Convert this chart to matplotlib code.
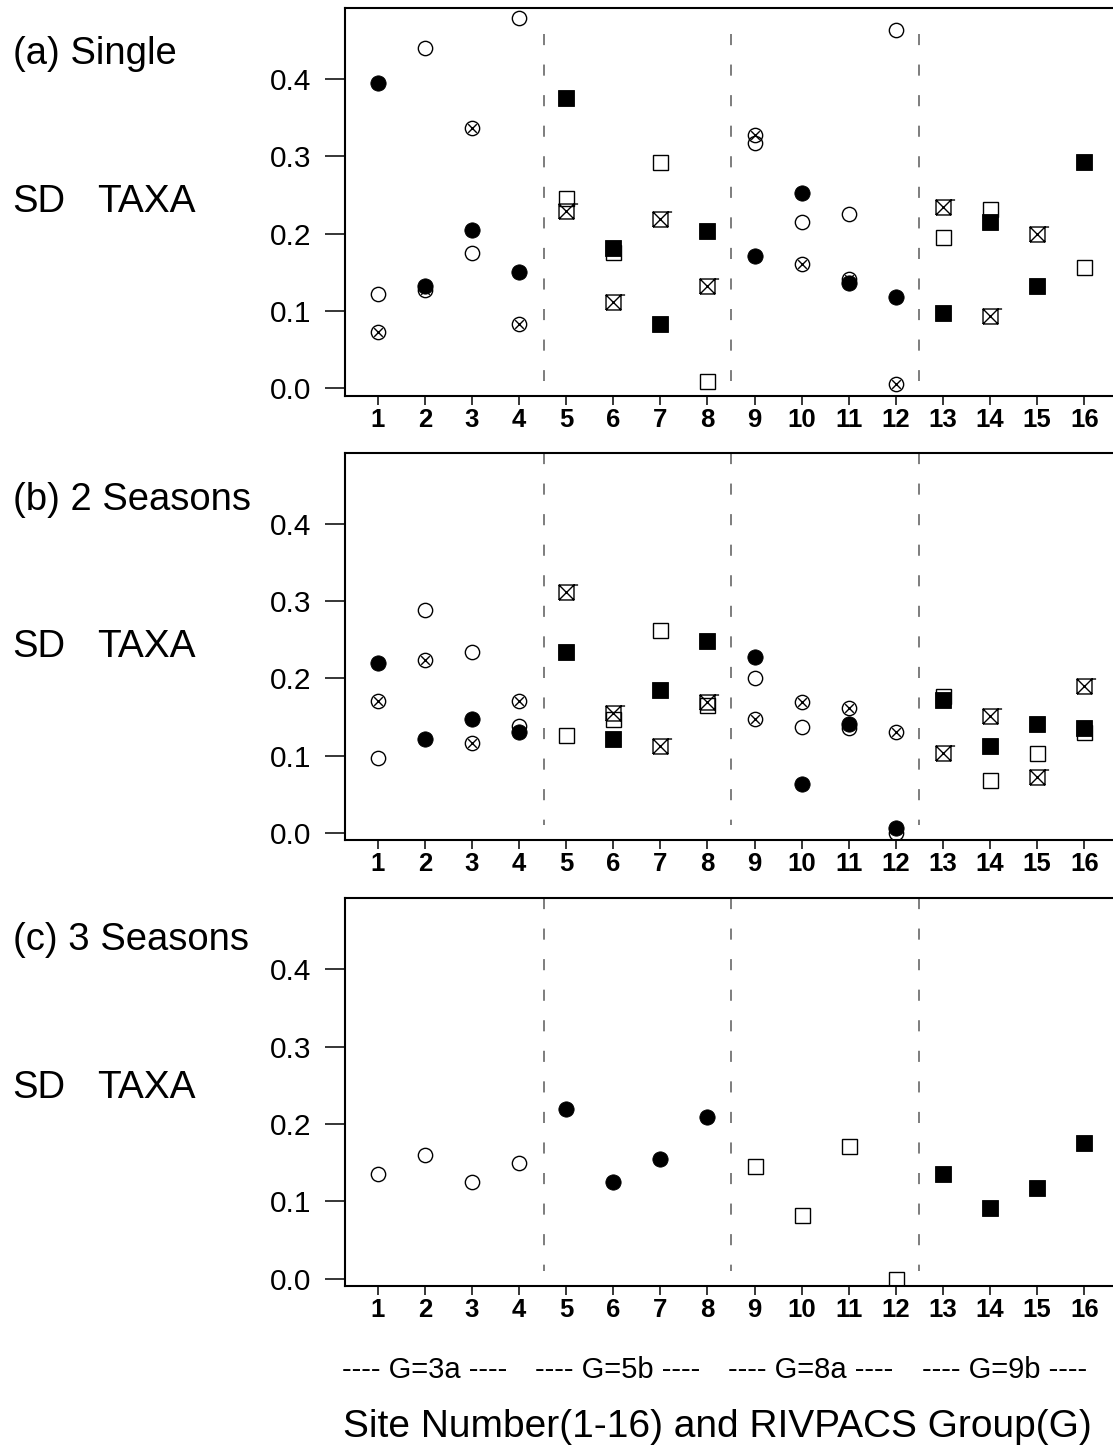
import numpy as np
import matplotlib.pyplot as plt
from matplotlib.path import Path
from matplotlib.transforms import blended_transform_factory

plt.rcParams['font.family'] = ['Liberation Sans', 'DejaVu Sans']
plt.rcParams['lines.scale_dashes'] = False

# sites and RIVPACS groups (4 sites per group)
sites = np.arange(1, 17)
group_names = ['G=3a', 'G=5b', 'G=8a', 'G=9b']
group_of_site = np.repeat([0, 1, 2, 3], 4)
panel_titles = ['(a) Single', '(b) 2 Seasons', '(c) 3 Seasons']

# (a) single season SD of TAXA, three series per site
single_filled = [0.395, 0.132, 0.205, 0.151, 0.376, 0.181, 0.083, 0.204,
                 0.171, 0.253, 0.136, 0.118, 0.097, 0.215, 0.132, 0.293]
single_open = [0.122, 0.440, 0.175, 0.479, 0.246, 0.177, 0.293, 0.010,
               0.317, 0.215, 0.225, 0.464, 0.196, 0.232, np.nan, 0.157]
single_crossed = [0.073, 0.127, 0.337, 0.083, 0.229, 0.112, 0.219, 0.132,
                  0.328, 0.161, 0.141, 0.005, 0.235, 0.093, 0.200, np.nan]

# (b) two seasons combined
two_filled = [0.220, 0.122, 0.147, 0.131, 0.234, 0.122, 0.185, 0.249,
              0.228, 0.063, 0.141, 0.006, 0.172, 0.112, 0.141, 0.136]
two_open = [0.097, 0.288, 0.234, 0.138, 0.127, 0.147, 0.263, 0.166,
            0.200, 0.137, 0.136, 0.000, 0.177, 0.068, 0.103, 0.131]
two_crossed = [0.171, 0.224, 0.117, 0.171, 0.312, 0.155, 0.112, 0.169,
               0.147, 0.170, 0.162, 0.131, 0.103, 0.151, 0.073, 0.190]

# (c) three seasons combined, one value per site
three_seasons = [0.135, 0.160, 0.125, 0.150, 0.219, 0.125, 0.155, 0.209,
                 0.146, 0.082, 0.171, 0.000, 0.135, 0.092, 0.117, 0.175]

dividers = [4.53, 8.5, 12.5]
group_label_x = [2.0, 6.1, 10.2, 14.3]

# circle with a cross, square with a cross (plus the little top tail)
M, L = Path.MOVETO, Path.LINETO
circle_x = Path.make_compound_path(
    Path.unit_circle(),
    Path([(-.6, -.6), (.6, .6), (-.6, .6), (.6, -.6)], [M, L, M, L]))
square_x = Path([(-1, -1), (1, -1), (1, 1), (-1, 1), (-1, -1),
                 (-1, -1), (1, 1), (-1, 1), (1, -1), (1, 1), (1.55, 1)],
                [M, L, L, L, L, M, L, M, L, M, L])

W, H = 1113, 1449
fig = plt.figure(figsize=(W / 100, H / 100), dpi=100)

ax_left = 345 / W
ax_tops = [8, 452.7, 898.3]
ax_h = 387.7


def scatter(ax, mask, vals, kind, shape):
    x = sites[mask]
    y = np.asarray(vals, dtype=float)[mask]
    if kind == 'filled':
        m = 'o' if shape == 'circle' else 's'
        ms = 11 if shape == 'circle' else 11.5
        ax.plot(x, y, ls='none', marker=m, ms=ms, mfc='black', mec='black',
                mew=0.6, zorder=4)
    elif kind == 'open':
        m = 'o' if shape == 'circle' else 's'
        ms = 10.3 if shape == 'circle' else 10.8
        ax.plot(x, y, ls='none', marker=m, ms=ms, mfc='none', mec='black',
                mew=1.0, zorder=2)
    else:
        m = circle_x if shape == 'circle' else square_x
        ms = 10.3 if shape == 'circle' else 16.7
        ax.plot(x, y, ls='none', marker=m, ms=ms, mfc='none', mec='black',
                mew=1.0, zorder=3)


circle_sites = np.isin(group_of_site, [0, 2])
square_sites = ~circle_sites

axes = []
for i, top in enumerate(ax_tops):
    bottom = 1 - (top + ax_h) / H
    ax = fig.add_axes([ax_left, bottom, 1 - ax_left, ax_h / H])
    axes.append(ax)
    ax.set_xlim(0.306, 16.61)
    ax.set_ylim(-0.0095, 0.492)
    ax.spines['right'].set_visible(False)
    for s in ['left', 'bottom', 'top']:
        ax.spines[s].set_linewidth(1.5)
    ax.set_yticks([0.0, 0.1, 0.2, 0.3, 0.4])
    ax.set_yticklabels(['0.0', '0.1', '0.2', '0.3', '0.4'])
    ax.set_xticks(sites)
    ax.set_xticklabels([str(s) for s in sites], fontweight='bold')
    ax.tick_params(axis='y', direction='out', length=14.4, width=1.1,
                   pad=10, labelsize=21.5)
    ax.tick_params(axis='x', direction='out', length=6.5, width=1.1,
                   pad=2, labelsize=18.5)

    # dashed separators between the RIVPACS groups
    y_top = 0.459 if i == 0 else 0.492
    for d in dividers:
        ax.plot([d, d], [y_top, 0.01], color='#5a5a5a', lw=1.1,
                ls=(0, (8, 14)), zorder=1)

    # panel title and y label
    base = [64.5, 510, 950][i]
    fig.text(12.7 / W, 1 - base / H, panel_titles[i], fontsize=27.5,
             va='baseline', ha='left')
    sd_base = [211.7, 656.7, 1098][i]
    fig.text(12.7 / W, 1 - sd_base / H, 'SD', fontsize=27.5,
             va='baseline', ha='left')
    fig.text(97 / W, 1 - sd_base / H, 'TAXA', fontsize=28,
             va='baseline', ha='left')

# panels (a) and (b): circles for G=3a/8a, squares for G=5b/9b
for ax, (f, o, c) in zip(axes[:2], [(single_filled, single_open, single_crossed),
                                     (two_filled, two_open, two_crossed)]):
    for mask, shape in [(circle_sites, 'circle'), (square_sites, 'square')]:
        scatter(ax, mask, o, 'open', shape)
        scatter(ax, mask, c, 'crossed', shape)
        scatter(ax, mask, f, 'filled', shape)

# panel (c): marker style by group
ax = axes[2]
styles = [('open', 'circle'), ('filled', 'circle'),
          ('open', 'square'), ('filled', 'square')]
for g, (kind, shape) in enumerate(styles):
    scatter(ax, group_of_site == g, three_seasons, kind, shape)

# group labels and axis title under the last panel
trans = blended_transform_factory(ax.transData, fig.transFigure)
for gx, name in zip(group_label_x, group_names):
    fig.text(gx, 1 - 1378.3 / H, '---- ' + name + ' ----', transform=trans,
             fontsize=21, ha='center', va='baseline')
fig.text(717.5 / W, 1 - 1436.7 / H, 'Site Number(1-16) and RIVPACS Group(G)',
         fontsize=28, ha='center', va='baseline')

fig.savefig('out.png', dpi=100)
